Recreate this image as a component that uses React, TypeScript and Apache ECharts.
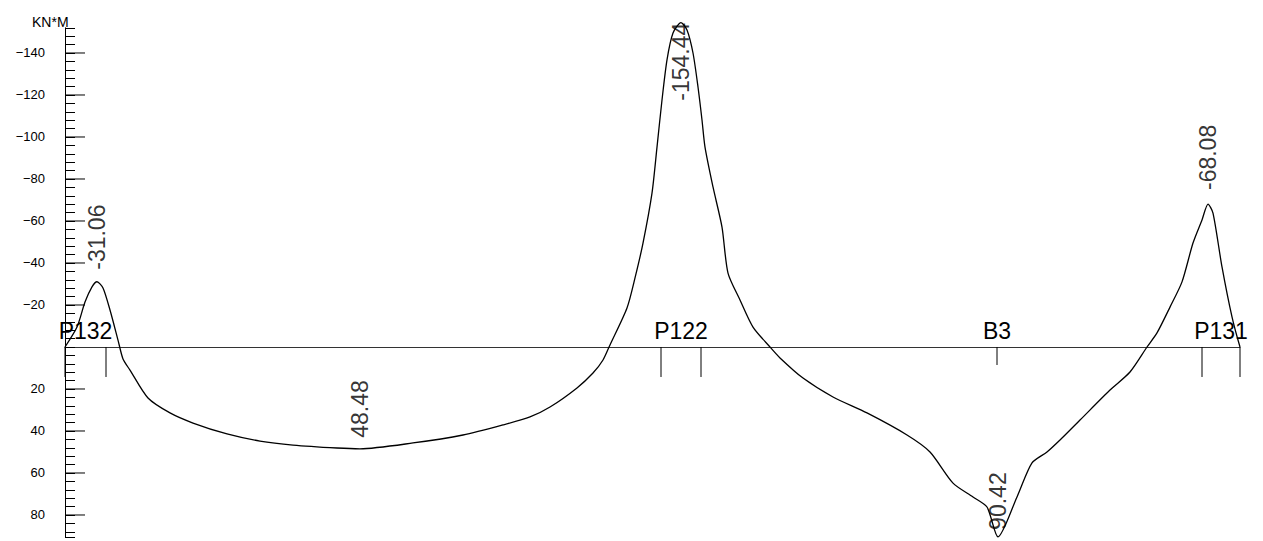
import { useEffect, useRef } from "react";
import * as echarts from "echarts";

// Bending moment along the beam line (station in m, moment in kN*m; negative = hogging, drawn upward)
const station = [
  0, 0.24, 0.4, 0.54, 0.64, 0.76, 0.9, 1.06, 1.16, 1.3, 1.66, 2.1, 2.56, 3.24, 3.9, 4.56, 5.44, 5.9,
  6.96, 7.96, 8.76, 9.3, 9.7, 10.24, 10.56, 10.76, 10.9, 11.24, 11.4, 11.56, 11.74, 11.84, 11.94, 12.04,
  12.16, 12.32, 12.44, 12.56, 12.66, 12.74, 12.8, 12.96, 13.14, 13.26, 13.5, 13.76, 14.1, 14.3, 14.76,
  15.36, 16.04, 16.84, 17.3, 17.76, 18.16, 18.44, 18.66, 19.04, 19.34, 19.64, 19.9, 20.3, 20.9, 21.3,
  21.64, 21.84, 22.1, 22.34, 22.56, 22.74, 22.86, 22.96, 23.14, 23.34, 23.5,
];
const moment = [
  0, -9.5, -21.4, -28.6, -31.06, -28.1, -17.6, -3.3, 5.7, 11.0, 24.3, 31.4, 36.2, 41.4, 44.8, 46.7, 48.1,
  48.48, 45.7, 41.9, 37.1, 33.3, 28.6, 19.5, 12.4, 6.2, -1.0, -18.6, -32.9, -49.5, -73.3, -95.2, -117.6,
  -136.7, -149.5, -154.44, -151.0, -140.0, -123.8, -108.1, -95.2, -76.2, -57.1, -35.2, -22.4, -9.5, 0,
  5.2, 14.8, 23.8, 31.4, 41.9, 50.0, 64.8, 71.4, 76.2, 90.42, 71.4, 55.2, 50.0, 44.3, 34.8, 20.5, 11.9,
  0, -6.7, -19.0, -31.0, -49.5, -60.5, -68.08, -63.8, -38.1, -14.3, 0,
];
// Indices of the local extremes that carry a value label
const extremeIdx = [4, 17, 35, 56, 70];

// Supports / beams: face-to-face extent along the line and tick length under the axis
const supportNames = ["P132", "P122", "B3", "P131"];
const supportFrom = [0, 11.92, 18.64, 22.74];
const supportTo = [0.82, 12.72, 18.64, 23.5];
const supportTick = [30, 30, 18, 30];

const majorTicks = [-140, -120, -100, -80, -60, -40, -20, 20, 40, 60, 80];
const unitLabel = "KN*M";

const FONT = "'Liberation Sans', Arial, sans-serif";

export default function App() {
  const ref = useRef<HTMLDivElement>(null);

  useEffect(() => {
    if (!ref.current) return;
    const chart = echarts.init(ref.current, undefined, { renderer: "svg" });

    const curve = station.map((x, i) => [x, moment[i]]);
    const lowest = Math.min(...moment);
    const extremes = extremeIdx.map((i) => {
      const v = moment[i];
      return {
        value: [station[i], v],
        label:
          v === lowest
            ? { position: "bottom", distance: 0, align: "right" }
            : { position: "top", distance: v > 60 ? 7 : v > 0 ? 11 : v < -50 ? 14 : 12, align: "left" },
      };
    });

    chart.setOption({
      animation: false,
      title: {
        text: unitLabel,
        left: 27,
        top: 10,
        textStyle: { fontFamily: FONT, fontSize: 14, fontWeight: "normal", color: "#000" },
      },
      grid: { left: 65, right: 23, top: 27.8, bottom: 4.12 },
      xAxis: {
        type: "value",
        min: 0,
        max: 23.5,
        axisLine: { onZero: true, lineStyle: { color: "#333", width: 1 } },
        axisTick: { show: false },
        axisLabel: { show: false },
        splitLine: { show: false },
      },
      yAxis: {
        type: "value",
        inverse: true,
        min: -152,
        max: 90.42,
        interval: 4,
        axisLine: { show: true, onZero: false, lineStyle: { color: "#000", width: 1 } },
        axisTick: { show: true, inside: true, length: 10, lineStyle: { color: "#000", width: 1 } },
        axisLabel: {
          margin: 20,
          fontFamily: FONT,
          fontSize: 13,
          color: "#000",
          formatter: (v: number) =>
            v !== 0 && Math.abs(v % 20) < 1e-9 ? String(v).replace("-", "\u2212") : "",
        },
        splitLine: { show: false },
      },
      series: [
        {
          type: "line",
          data: curve,
          symbol: "none",
          smooth: 0.25,
          lineStyle: { color: "#000", width: 1.3 },
          clip: false,
          z: 3,
        },
        {
          type: "scatter",
          data: extremes,
          symbolSize: 0,
          silent: true,
          clip: false,
          label: {
            show: true,
            rotate: 90,
            verticalAlign: "middle",
            fontFamily: FONT,
            fontSize: 23,
            color: "#000",
            formatter: (p: any) => p.value[1].toFixed(2),
          },
          labelLayout: { hideOverlap: false },
          z: 4,
        },
        {
          // long ticks at the labelled axis values
          type: "custom",
          data: majorTicks.map((v) => [0, v]),
          silent: true,
          renderItem: (_p: any, api: any) => {
            const c = api.coord([0, api.value(1)]);
            return {
              type: "line",
              shape: { x1: c[0], y1: c[1], x2: c[0] + 20, y2: c[1] },
              style: { stroke: "#000", lineWidth: 1 },
            };
          },
        },
        {
          // support faces and names along the zero line
          type: "custom",
          data: supportNames.map((_n, i) => [supportFrom[i], supportTo[i], supportTick[i]]),
          silent: true,
          renderItem: (p: any, api: any) => {
            const a = api.coord([api.value(0), 0]);
            const b = api.coord([api.value(1), 0]);
            const len = api.value(2);
            const children: any[] = [];
            const xs = a[0] === b[0] ? [a[0]] : [a[0], b[0]];
            xs.forEach((x) => {
              children.push({
                type: "line",
                shape: { x1: x, y1: a[1], x2: x, y2: a[1] + len },
                style: { stroke: "#000", lineWidth: 1 },
              });
            });
            children.push({
              type: "text",
              x: (a[0] + b[0]) / 2,
              y: a[1] - 4,
              style: {
                text: supportNames[p.dataIndex],
                fontFamily: FONT,
                fontSize: 23,
                fill: "#000",
                align: "center",
                verticalAlign: "bottom",
              },
            });
            return { type: "group", children };
          },
        },
      ],
    });

    return () => chart.dispose();
  }, []);

  return (
    <div
      ref={ref}
      style={{ position: "fixed", left: 0, top: 0, width: 1263, height: 541, background: "#fff" }}
    />
  );
}
